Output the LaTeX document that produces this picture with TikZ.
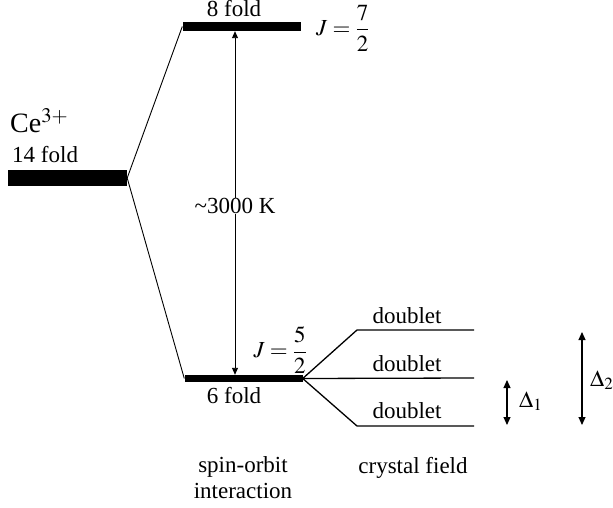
\documentclass[tikz,border=0pt]{standalone}
\usepackage{mathptmx}
\usepackage{fontspec}
\setmainfont{Liberation Serif}
\usetikzlibrary{positioning, arrows.meta}

\begin{document}
\begin{tikzpicture}[x=1pt, y=-1pt, every node/.style={font=\fontsize{23}{26}\selectfont, inner sep=0pt},
    bar/.style={fill=black, minimum width=118pt},
    level/.style={line width=1.3pt},
    tie/.style={line width=0.9pt},
    split/.style={line width=0.9pt},
    gap/.style={line width=1.1pt, {Triangle[length=8pt,width=7pt]}-{Triangle[length=8pt,width=7pt]}}]
    \useasboundingbox (0,0) rectangle (613,508);
    % free ion and spin-orbit levels
    \node[bar, minimum width=119pt, minimum height=16pt] (ce) at (67.5,178) {};
    \node[bar, minimum height=9pt] (j72) at (241.5,26.5) {};
    \node[bar, minimum height=7pt] (j52) at (243.5,378.5) {};
    \node[anchor=base west, font=\fontsize{28}{30}\selectfont] (ion) at (10,133) {Ce$^{3+}$};
    \node[anchor=base west] (f14) at (12,162) {14 fold};
    \node[anchor=base] (f8) at (234,17) {8 fold};
    \node[anchor=base] (f6) at (234,403) {6 fold};
    \node[anchor=west] (jtop) at (316,28) {$J=\displaystyle\frac{7}{2}$};
    \node[anchor=east] (jbot) at (307,350) {$J=\displaystyle\frac{5}{2}$};
    \draw[tie] (ce.east) -- (j72.west);
    \draw[tie] (ce.east) -- (j52.west);
    % spin-orbit gap
    \node (k3000) at (235,206) {\textasciitilde3000 K};
    \draw[split, {Triangle[length=7pt,width=6pt]}-] (j72.south -| k3000) -- (k3000.north);
    \draw[split, -{Triangle[length=7pt,width=6pt]}] (k3000.south) -- (j52.north -| k3000);
    % crystal field doublets
    \coordinate (ua) at (357,330);
    \coordinate (ub) at (474,330);
    \coordinate (mb) at (474,378);
    \coordinate (la) at (357,426);
    \coordinate (lb) at (474,426);
    \draw[level] (j52.east) -- (ua) -- (ub);
    \draw[level] (j52.east) -- (mb);
    \draw[level] (j52.east) -- (la) -- (lb);
    \node (dua) at (407,316) {doublet};
    \node (dmid) at (407,364) {doublet};
    \node (dlow) at (407,411) {doublet};
    % splittings
    \coordinate (d1a) at (507,380);
    \coordinate (d1b) at (507,425);
    \coordinate (d2a) at (582,332);
    \coordinate (d2b) at (582,425);
    \draw[gap] (d1a) -- (d1b);
    \draw[gap] (d2a) -- (d2b);
    \node[anchor=west] (del1) at (519,401) {$\Delta_1$};
    \node[anchor=west] (del2) at (590,380) {$\Delta_2$};
    % captions
    \node[align=center] (so) at (243,478) {spin-orbit\\interaction};
    \node (cf) at (413,468) {crystal field};
\end{tikzpicture}
\end{document}
